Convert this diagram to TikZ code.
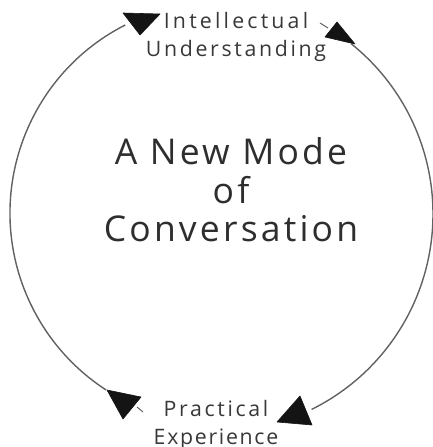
\documentclass[tikz,border=0pt]{standalone}
\usepackage{fontspec}
\setmainfont{Open Sans}
\begin{document}
\begin{tikzpicture}[x=1pt,y=1pt,
  cycleline/.style={draw=black!62, line width=1.4pt},
  headtip/.style={fill=black!92, draw=black!92, line join=round, line width=0.6pt},
  stub/.style={draw=black!60, line width=1pt},
  centrelabel/.style={font=\fontsize{35.5}{38.5}\selectfont\addfontfeature{LetterSpace=9}, text=black!82, align=center, inner sep=0pt},
  polelabel/.style={font=\fontsize{21.3}{27.5}\selectfont\addfontfeature{LetterSpace=12.5}, text=black!78, align=center, inner sep=0pt}
]
\useasboundingbox (0,0) rectangle (432,447);

% labels
\node[polelabel]   (iu) at (236,410) {\addfontfeature{LetterSpace=15}Intellectual\\Understanding};
\node[polelabel]   (pe) at (216,22)  {Practical\\\addfontfeature{LetterSpace=8}Experience};
\node[centrelabel] (mc) at (231,257) {A New Mode\\of\\Conversation};

% arc ends
\coordinate (lc) at (221,234);
\coordinate (rc) at (215,233);
\path (lc) ++(117:211) coordinate (iu-l);
\path (rc) ++(-63.7:218) coordinate (pe-r);

% left arc: understanding down to experience
\draw[cycleline] (iu-l) arc[start angle=117, end angle=237, radius=211] coordinate (pe-l);
% right arc: experience back up to understanding
\draw[cycleline] (pe-r) arc[start angle=-63.7, end angle=51.3, radius=218] coordinate (iu-r);

% arrowheads
\fill[headtip] (123,434) -- (160,433) -- (140,412) -- cycle;
\fill[headtip] (337,425) -- (325,410) -- (355,403) -- cycle;
\fill[headtip] (107,57) -- (141,50) -- (123,28) -- cycle;
\fill[headtip] (300,51) -- (277,25) -- (312,22) -- cycle;

% short tails beside the heads
\draw[stub] (320,424) -- (328,419);
\draw[stub] (137,40) -- (143,35);
\end{tikzpicture}
\end{document}
